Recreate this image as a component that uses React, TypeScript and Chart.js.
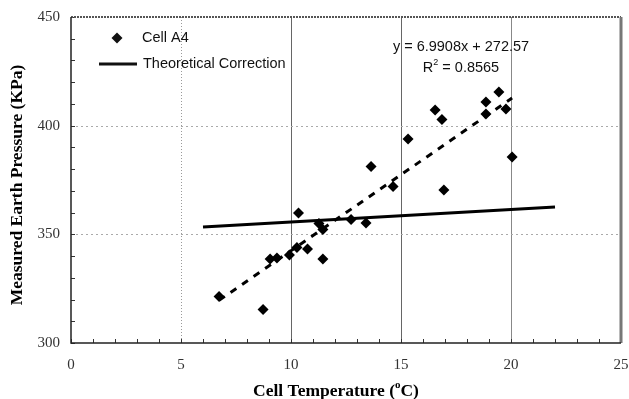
import React, { useEffect, useRef } from "react";
import { Chart, registerables } from "chart.js";

Chart.register(...registerables);

// Cell temperature (°C) and measured earth pressure (KPa) for Cell A4
const cellTemp = [6.73, 8.73, 9.05, 9.36, 9.93, 10.27, 10.34, 10.75, 11.27, 11.45, 11.45, 12.73, 13.41, 13.64, 14.64, 15.32, 16.55, 16.86, 16.95, 18.86, 18.86, 19.45, 19.77, 20.05];
const cellPressure = [321.4, 315.4, 338.7, 339.1, 340.5, 343.9, 359.8, 343.3, 355.0, 352.2, 338.7, 356.8, 355.2, 381.2, 372.0, 393.9, 407.2, 402.8, 370.4, 410.9, 405.4, 415.5, 407.7, 385.6];

// Theoretical correction line end points
const theoryTemp = [6, 22];
const theoryPressure = [353.4, 362.6];

// Linear regression shown on the chart
const trendSlope = 6.9908;
const trendIntercept = 272.57;
const trendLabel = "y = 6.9908x + 272.57";
const r2Value = "0.8565";

const xTicks = [0, 5, 10, 15, 20, 25];
const yTicks = [300, 350, 400, 450];

const seriesLabels = ["Cell A4", "Theoretical Correction"];
const xTitle = "Cell Temperature (";
const xTitleSup = "o";
const xTitleEnd = "C)";
const yTitle = "Measured Earth Pressure (KPa)";

const SANS = '"Liberation Sans", Arial, sans-serif';
const SERIF = '"Liberation Serif", "Times New Roman", serif';

const decorPlugin = {
  id: "decor",
  beforeDatasetsDraw(chart: any) {
    const { ctx, chartArea: a, scales } = chart;
    const xs = scales.x;
    const ys = scales.y;
    ctx.save();
    // vertical grid
    const vStyles: Record<number, { c: string; d: number[]; w: number }> = {
      5: { c: "#9a9a9a", d: [1, 2], w: 1 },
      10: { c: "#666", d: [], w: 1 },
      15: { c: "#666", d: [], w: 1 },
      20: { c: "#888", d: [], w: 1 },
    };
    for (const v of xTicks) {
      const s = vStyles[v];
      if (!s) continue;
      const px = Math.round(xs.getPixelForValue(v)) + 0.5;
      ctx.beginPath();
      ctx.setLineDash(s.d);
      ctx.strokeStyle = s.c;
      ctx.lineWidth = s.w;
      ctx.moveTo(px, a.top);
      ctx.lineTo(px, a.bottom);
      ctx.stroke();
    }
    for (const v of yTicks) {
      if (v === 300 || v === 450) continue;
      const py = Math.round(ys.getPixelForValue(v)) + 0.5;
      ctx.beginPath();
      ctx.setLineDash([2, 3]);
      ctx.strokeStyle = "#aaa";
      ctx.lineWidth = 1;
      ctx.moveTo(a.left, py);
      ctx.lineTo(a.right, py);
      ctx.stroke();
    }
    ctx.setLineDash([]);
    // minor ticks
    ctx.strokeStyle = "#333";
    ctx.lineWidth = 1;
    for (let v = xs.min; v <= xs.max; v += 1) {
      const px = Math.round(xs.getPixelForValue(v)) + 0.5;
      ctx.beginPath();
      ctx.moveTo(px, a.bottom);
      ctx.lineTo(px, a.bottom - 4);
      ctx.stroke();
    }
    for (let v = ys.min; v <= ys.max; v += 10) {
      const py = Math.round(ys.getPixelForValue(v)) + 0.5;
      ctx.beginPath();
      ctx.moveTo(a.left, py);
      ctx.lineTo(a.left + 4, py);
      ctx.stroke();
    }
    // frame
    ctx.strokeStyle = "#555";
    ctx.lineWidth = 2;
    ctx.setLineDash([2, 1]);
    ctx.beginPath();
    ctx.moveTo(a.left, a.top);
    ctx.lineTo(a.right, a.top);
    ctx.stroke();
    ctx.setLineDash([]);
    ctx.strokeStyle = "#777";
    ctx.lineWidth = 3;
    ctx.beginPath();
    ctx.moveTo(a.right, a.top);
    ctx.lineTo(a.right, a.bottom);
    ctx.stroke();
    ctx.strokeStyle = "#222";
    ctx.lineWidth = 1.5;
    ctx.beginPath();
    ctx.moveTo(a.left, a.top);
    ctx.lineTo(a.left, a.bottom);
    ctx.lineTo(a.right, a.bottom);
    ctx.stroke();
    ctx.restore();
  },
  afterDraw(chart: any) {
    const { ctx, chartArea: a } = chart;
    ctx.save();
    ctx.fillStyle = "#111";
    ctx.textBaseline = "middle";
    // legend
    ctx.beginPath();
    const dx = 117, dy = 38, r = 5.5;
    ctx.moveTo(dx - r, dy);
    ctx.lineTo(dx, dy - r);
    ctx.lineTo(dx + r, dy);
    ctx.lineTo(dx, dy + r);
    ctx.closePath();
    ctx.fill();
    ctx.font = `14.5px ${SANS}`;
    ctx.textAlign = "left";
    ctx.fillText(seriesLabels[0], 142, 38);
    ctx.strokeStyle = "#111";
    ctx.lineWidth = 3;
    ctx.beginPath();
    ctx.moveTo(99, 64);
    ctx.lineTo(137, 64);
    ctx.stroke();
    ctx.fillText(seriesLabels[1], 143, 64);
    // equation
    ctx.textAlign = "center";
    ctx.fillText(trendLabel, 461, 47);
    const rMain = "R";
    const rRest = " = " + r2Value;
    const w1 = ctx.measureText(rMain).width;
    const w3 = ctx.measureText(rRest).width;
    ctx.font = `9px ${SANS}`;
    const w2 = ctx.measureText("2").width;
    const total = w1 + w2 + w3;
    let sx = 461 - total / 2;
    ctx.textAlign = "left";
    ctx.font = `14.5px ${SANS}`;
    ctx.fillText(rMain, sx, 68);
    ctx.font = `9px ${SANS}`;
    ctx.fillText("2", sx + w1, 63);
    ctx.font = `14.5px ${SANS}`;
    ctx.fillText(rRest, sx + w1 + w2, 68);
    // x title
    ctx.fillStyle = "#000";
    ctx.font = `bold 17.5px ${SERIF}`;
    const t1 = ctx.measureText(xTitle).width;
    const t3 = ctx.measureText(xTitleEnd).width;
    ctx.font = `bold 11px ${SERIF}`;
    const t2 = ctx.measureText(xTitleSup).width;
    const tw = t1 + t2 + t3;
    const tx = 336 - tw / 2;
    const ty = 391;
    ctx.font = `bold 17.5px ${SERIF}`;
    ctx.fillText(xTitle, tx, ty);
    ctx.font = `bold 11px ${SERIF}`;
    ctx.fillText(xTitleSup, tx + t1, ty - 6);
    ctx.font = `bold 17.5px ${SERIF}`;
    ctx.fillText(xTitleEnd, tx + t1 + t2, ty);
    // y title
    ctx.translate(17, (a.top + a.bottom) / 2 + 5);
    ctx.rotate(-Math.PI / 2);
    ctx.textAlign = "center";
    ctx.fillText(yTitle, 0, 0);
    ctx.restore();
  },
};

export default function App() {
  const ref = useRef<HTMLCanvasElement | null>(null);
  useEffect(() => {
    if (!ref.current) return;
    const points = cellTemp.map((x, i) => ({ x, y: cellPressure[i] }));
    const tMin = Math.min(...cellTemp);
    const tMax = Math.max(...cellTemp);
    const trend = [tMin, tMax].map((x) => ({ x, y: trendSlope * x + trendIntercept }));
    const theory = theoryTemp.map((x, i) => ({ x, y: theoryPressure[i] }));
    const chart = new Chart(ref.current, {
      type: "scatter",
      data: {
        datasets: [
          {
            label: seriesLabels[0],
            data: points,
            pointStyle: "rectRot",
            pointRadius: 5.5,
            backgroundColor: "#000",
            borderColor: "#000",
            borderWidth: 0,
            showLine: false,
          },
          {
            label: seriesLabels[1],
            data: theory,
            showLine: true,
            borderColor: "#000",
            borderWidth: 3,
            pointRadius: 0,
          },
          {
            label: "Linear (Cell A4)",
            data: trend,
            showLine: true,
            borderColor: "#000",
            borderWidth: 3,
            borderDash: [7, 7],
            pointRadius: 0,
          },
        ],
      },
      options: {
        responsive: false,
        animation: false,
        layout: { padding: { top: 17, right: 8, left: 0, bottom: 0 } },
        plugins: { legend: { display: false }, tooltip: { enabled: false } },
        scales: {
          x: {
            type: "linear",
            min: 0,
            max: 25,
            afterFit: (s: any) => {
              s.height = 56;
              s.paddingLeft = 0;
              s.paddingRight = 0;
            },
            ticks: {
              stepSize: 5,
              padding: 13,
              color: "#333",
              font: { family: SERIF, size: 15 },
            },
            grid: { display: false, drawTicks: false },
            border: { display: false },
          },
          y: {
            type: "linear",
            min: 300,
            max: 450,
            afterFit: (s: any) => {
              s.width = 71;
              s.paddingTop = 0;
              s.paddingBottom = 0;
            },
            ticks: {
              stepSize: 50,
              padding: 11,
              color: "#333",
              font: { family: SERIF, size: 15 },
            },
            grid: { display: false, drawTicks: false },
            border: { display: false },
          },
        },
      },
      plugins: [decorPlugin],
    });
    return () => chart.destroy();
  }, []);
  return (
    <div style={{ position: "absolute", left: 0, top: 0, width: 629, height: 399, background: "#fff" }}>
      <canvas ref={ref} width={629} height={399} />
    </div>
  );
}
